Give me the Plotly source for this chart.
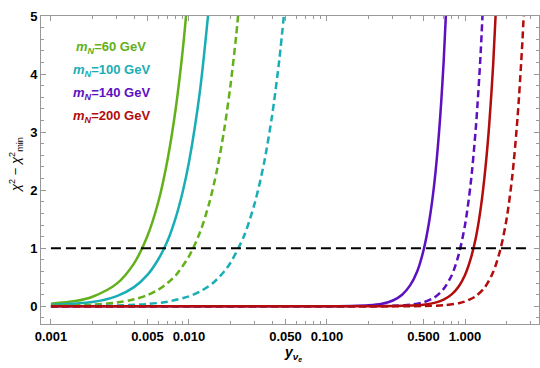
import plotly.graph_objects as go

# values (chi^2 - chi^2_min vs y_nu_e)
green_solid_x = [0.001, 0.0015, 0.002, 0.003, 0.004, 0.005, 0.006, 0.007, 0.008, 0.009, 0.010]
green_solid_y = [0.045, 0.09, 0.165, 0.39, 0.74, 1.21, 1.80, 2.53, 3.39, 4.40, 5.55]

cyan_solid_x = [0.001, 0.002, 0.003, 0.004, 0.005, 0.006, 0.007, 0.008, 0.009, 0.010, 0.012, 0.014]
cyan_solid_y = [0.025, 0.072, 0.175, 0.33, 0.54, 0.81, 1.13, 1.52, 1.97, 2.48, 3.70, 5.20]

green_dash_x = [0.001, 0.002, 0.003, 0.004, 0.005, 0.006, 0.007, 0.008, 0.010, 0.012, 0.014,
                0.016, 0.018, 0.020, 0.022, 0.024]
green_dash_y = [0.01, 0.027, 0.064, 0.12, 0.193, 0.286, 0.40, 0.53, 0.86, 1.27, 1.77,
                2.36, 3.04, 3.81, 4.67, 5.64]

cyan_dash_x = [0.001, 0.003, 0.005, 0.007, 0.010, 0.012, 0.015, 0.018, 0.020, 0.025, 0.030,
               0.035, 0.040, 0.045, 0.050]
cyan_dash_y = [0.002, 0.013, 0.039, 0.08, 0.171, 0.253, 0.406, 0.60, 0.75, 1.205, 1.78,
               2.47, 3.28, 4.22, 5.28]

purple_solid_x = [0.001, 0.01, 0.1, 0.15, 0.2, 0.25, 0.3, 0.35, 0.4, 0.45, 0.5, 0.55, 0.6,
                  0.65, 0.7, 0.75]
purple_solid_y = [0.0, 0.0, 0.001, 0.005, 0.017, 0.045, 0.10, 0.20, 0.36, 0.60, 0.96, 1.46,
                  2.13, 3.03, 4.21, 5.69]

purple_dash_x = [0.001, 0.01, 0.1, 0.2, 0.3, 0.4, 0.5, 0.6, 0.7, 0.8, 0.9, 1.0, 1.1, 1.2, 1.3, 1.4]
purple_dash_y = [0.0, 0.0, 0.0, 0.001, 0.0075, 0.026, 0.069, 0.152, 0.30, 0.53, 0.89, 1.40,
                 2.12, 3.10, 4.39, 6.07]

red_solid_x = [0.001, 0.01, 0.1, 0.3, 0.5, 0.6, 0.7, 0.8, 0.9, 1.0, 1.1, 1.2, 1.3, 1.4, 1.5,
               1.6, 1.7]
red_solid_y = [0.0, 0.0, 0.0, 0.003, 0.027, 0.059, 0.114, 0.205, 0.342, 0.54, 0.82, 1.19,
               1.69, 2.34, 3.15, 4.17, 5.44]

red_dash_x = [0.001, 0.01, 0.2, 0.5, 0.7, 0.9, 1.0, 1.2, 1.4, 1.6, 1.8, 2.0, 2.2, 2.4, 2.6, 2.8]
red_dash_y = [0.0, 0.0, 0.0, 0.0045, 0.018, 0.053, 0.082, 0.176, 0.336, 0.59, 0.97, 1.50,
              2.24, 3.24, 4.53, 6.18]

ref_x = [0.001, 2.96]
ref_y = [1, 1]

masses = ["60", "100", "140", "200"]

x_tickvals = [0.001, 0.005, 0.01, 0.05, 0.1, 0.5, 1.0]
x_ticktext = ["0.001", "0.005", "0.010", "0.050", "0.100", "0.500", "1.000"]

GREEN = "#62b01a"
CYAN = "#19aeb6"
PURPLE = "#5c10c0"
RED = "#b20c0c"
colors = [GREEN, CYAN, PURPLE, RED]

# plot area in pixels
L, R, T, B = 41, 1, 16, 44
W, H = 540, 368
PW, PH = W - L - R, H - T - B


def px_to_paper(px, py):
    return (px - L) / PW, 1 - (py - T) / PH


fig = go.Figure()

curves = [
    (green_solid_x, green_solid_y, GREEN, "solid"),
    (cyan_solid_x, cyan_solid_y, CYAN, "solid"),
    (green_dash_x, green_dash_y, GREEN, "7px,4px"),
    (cyan_dash_x, cyan_dash_y, CYAN, "7px,4px"),
    (purple_solid_x, purple_solid_y, PURPLE, "solid"),
    (purple_dash_x, purple_dash_y, PURPLE, "7px,4px"),
    (red_dash_x, red_dash_y, RED, "7px,4px"),
    (red_solid_x, red_solid_y, RED, "solid"),
]
for xs, ys, col, dash in curves:
    fig.add_trace(go.Scatter(
        x=xs,
        y=ys,
        mode="lines",
        line=dict(color=col, width=2.5, dash=dash, shape="spline", smoothing=0.8),
        showlegend=False,
        hoverinfo="skip",
    ))

fig.add_trace(go.Scatter(
    x=ref_x,
    y=ref_y,
    mode="lines",
    line=dict(color="black", width=2, dash="10px,5px"),
    showlegend=False,
    hoverinfo="skip",
))

# legend drawn as coloured text
for i, (m, col) in enumerate(zip(masses, colors)):
    ax, ay = px_to_paper(111, 47 + i * 23.3)
    fig.add_annotation(
        x=ax,
        y=ay,
        xref="paper",
        yref="paper",
        xanchor="center",
        yanchor="middle",
        text=f"<b><i>m</i><sub><i>N</i></sub>={m} GeV</b>",
        showarrow=False,
        font=dict(color=col, size=13),
    )

# axis titles
ax, ay = px_to_paper(293, 353)
fig.add_annotation(
    x=ax,
    y=ay,
    xref="paper",
    yref="paper",
    xanchor="center",
    yanchor="middle",
    text="<b><i>y</i></b><sub><b><i>ν<sub>e</sub></i></b></sub>",
    showarrow=False,
    font=dict(size=14),
)
ax, ay = px_to_paper(16, 165)
fig.add_annotation(
    x=ax,
    y=ay,
    xref="paper",
    yref="paper",
    xanchor="center",
    yanchor="middle",
    textangle=-90,
    text="<i>χ</i><sup>2</sup> − <i>χ</i><sup>2</sup><sub>min</sub>",
    showarrow=False,
    font=dict(size=13),
)

minor_x = []
for d in [0.001, 0.01, 0.1, 1.0]:
    for k in range(2, 10):
        v = d * k
        if v < 3.5 and k != 5:
            minor_x.append(v)

fig.update_layout(
    width=W,
    height=H,
    plot_bgcolor="white",
    paper_bgcolor="white",
    margin=dict(l=L, r=R, t=T, b=B),
    font=dict(family="Liberation Sans, Arial, sans-serif", size=13, color="black"),
    xaxis=dict(
        type="log",
        range=[-3.072, 0.536],
        tickvals=x_tickvals,
        ticktext=[f"<b>{t}</b>" for t in x_ticktext],
        ticks="inside",
        ticklen=5,
        tickcolor="#999",
        showline=True,
        linecolor="#999",
        linewidth=1,
        mirror="ticks",
        showgrid=False,
        zeroline=False,
        automargin=False,
        minor=dict(tickvals=minor_x, ticks="inside", ticklen=3, tickcolor="#999", showgrid=False),
    ),
    yaxis=dict(
        range=[-0.305, 5],
        tickvals=[0, 1, 2, 3, 4, 5],
        ticktext=["<b>0</b>", "<b>1</b>", "<b>2</b>", "<b>3</b>", "<b>4</b>", "<b>5</b>"],
        ticks="inside",
        ticklen=5,
        tickcolor="#999",
        showline=True,
        linecolor="#999",
        linewidth=1,
        mirror="ticks",
        showgrid=False,
        zeroline=False,
        automargin=False,
        minor=dict(dtick=0.2, ticks="inside", ticklen=3, tickcolor="#999", showgrid=False),
    ),
)

fig.write_html(
    "out.html",
    config={"displayModeBar": False},
    post_script="document.body.style.margin='0';",
)
